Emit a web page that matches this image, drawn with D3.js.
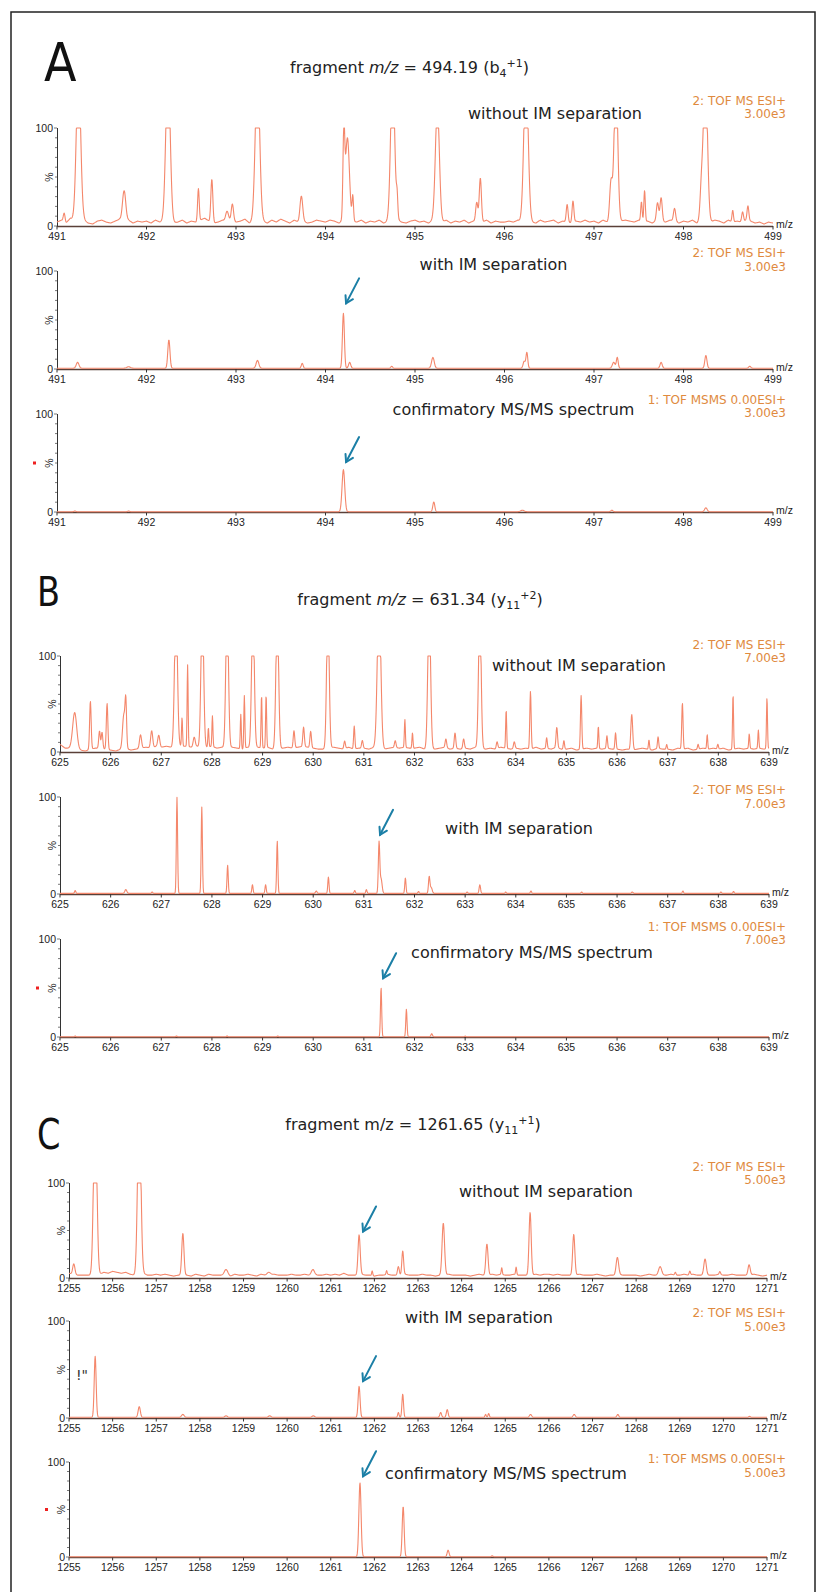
<!DOCTYPE html>
<html><head><meta charset="utf-8">
<script src="https://cdn.jsdelivr.net/npm/d3@7"></script>
<style>body{margin:0;background:#fff}svg{display:block}</style>
</head><body>
<svg id="c" width="816" height="1592"></svg>
<script>
// ---------------- DATA ----------------
const domainA = [491, 499];
const domainB = [625, 639];
const domainC = [1255, 1271];
const ticksA = [491, 492, 493, 494, 495, 496, 497, 498, 499];
const ticksB = [625, 626, 627, 628, 629, 630, 631, 632, 633, 634, 635, 636, 637, 638, 639];
const ticksC = [1255, 1256, 1257, 1258, 1259, 1260, 1261, 1262, 1263, 1264, 1265, 1266, 1267, 1268, 1269, 1270, 1271];
const yTickLabels = [0, 100];

const titleA = "494.19", titleB = "631.34", titleC = "1261.65";
const scanLabels = ["2: TOF MS ESI+", "2: TOF MS ESI+", "1: TOF MSMS 0.00ESI+"];
const scaleLabels = ["3.00e3", "7.00e3", "5.00e3"];
const panelNotes = ["without IM separation", "with IM separation", "confirmatory MS/MS spectrum"];

// peaks: [m/z, relative intensity %, width (sigma, m/z)]
const peaksA1 = [
  [491.08, 9, 0.01], [491.24, 156, 0.024], [491.75, 32, 0.018], [492.24, 156, 0.024],
  [492.58, 33, 0.009], [492.73, 44, 0.011], [492.90, 10, 0.015], [492.96, 16, 0.012],
  [493.24, 156, 0.024], [493.73, 26, 0.015], [494.205, 85, 0.01], [494.245, 85, 0.022],
  [494.305, 25, 0.008], [494.75, 156, 0.022], [494.80, 20, 0.008], [495.25, 118, 0.022],
  [495.69, 20, 0.012], [495.73, 45, 0.012], [496.24, 156, 0.024], [496.70, 18, 0.01],
  [496.765, 22, 0.01], [497.19, 40, 0.015], [497.245, 150, 0.02], [497.53, 20, 0.008],
  [497.565, 32, 0.008], [497.71, 18, 0.012], [497.75, 24, 0.012], [497.90, 13, 0.012],
  [498.20, 30, 0.015], [498.245, 156, 0.022], [498.55, 12, 0.008], [498.66, 10, 0.01],
  [498.72, 15, 0.01]
];
const peaksA2 = [
  [491.23, 6, 0.015], [491.8, 1.5, 0.02], [492.25, 29, 0.012], [493.24, 8, 0.015],
  [493.74, 5, 0.01], [494.20, 56, 0.011], [494.27, 6, 0.012], [494.74, 2, 0.01],
  [495.20, 11, 0.015], [496.22, 7, 0.012], [496.25, 16, 0.01], [497.22, 6, 0.015],
  [497.26, 11, 0.01], [497.75, 6, 0.012], [498.25, 13, 0.012], [498.74, 2, 0.012]
];
const peaksA3 = [
  [491.2, 0.8, 0.01], [491.8, 0.8, 0.01], [494.20, 43, 0.015], [495.21, 10, 0.011],
  [496.2, 1.5, 0.02], [497.2, 1.5, 0.012], [498.25, 4, 0.014]
];
const peaksB1 = [
  [625.29, 38, 0.04], [625.60, 50, 0.015], [625.78, 18, 0.015], [625.83, 17, 0.015],
  [625.93, 48, 0.015], [626.26, 35, 0.025], [626.30, 45, 0.015], [626.59, 14, 0.02],
  [626.81, 18, 0.02], [626.95, 12, 0.02], [627.29, 150, 0.028], [627.41, 30, 0.01],
  [627.52, 85, 0.01], [627.65, 10, 0.02], [627.81, 150, 0.026], [627.93, 20, 0.01],
  [628.01, 32, 0.01], [628.30, 150, 0.026], [628.57, 36, 0.01], [628.64, 55, 0.01],
  [628.81, 150, 0.026], [628.98, 55, 0.01], [629.07, 55, 0.01], [629.29, 150, 0.026],
  [629.62, 18, 0.015], [629.81, 20, 0.015], [629.95, 17, 0.015], [630.29, 150, 0.025],
  [630.62, 8, 0.015], [630.81, 24, 0.012], [630.97, 8, 0.015], [631.30, 160, 0.034],
  [631.62, 7, 0.015], [631.81, 29, 0.01], [631.96, 16, 0.01], [632.29, 150, 0.027],
  [632.62, 9, 0.015], [632.80, 16, 0.015], [632.97, 10, 0.015], [633.29, 150, 0.025],
  [633.63, 7, 0.015], [633.81, 40, 0.01], [633.97, 7, 0.015], [634.29, 60, 0.013],
  [634.61, 11, 0.012], [634.81, 21, 0.015], [634.95, 9, 0.012], [635.29, 56, 0.013],
  [635.63, 23, 0.01], [635.80, 13, 0.012], [635.97, 17, 0.012], [636.29, 37, 0.018],
  [636.63, 10, 0.01], [636.81, 12, 0.012], [636.98, 5, 0.01], [637.29, 48, 0.013],
  [637.60, 5, 0.012], [637.78, 15, 0.01], [637.99, 5, 0.012], [638.29, 57, 0.01],
  [638.61, 15, 0.01], [638.79, 19, 0.01], [638.96, 53, 0.01]
];
const peaksB2 = [
  [625.30, 3, 0.012], [626.30, 4, 0.02], [626.82, 1.5, 0.012], [627.31, 99, 0.012],
  [627.80, 89, 0.012], [628.31, 29, 0.012], [628.80, 9, 0.012], [629.06, 9, 0.012],
  [629.29, 54, 0.012], [630.06, 2.5, 0.015], [630.30, 17, 0.012], [630.82, 3, 0.012],
  [631.05, 4, 0.012], [631.30, 52, 0.014], [631.34, 15, 0.02], [631.82, 16, 0.012],
  [632.08, 2, 0.012], [632.29, 17, 0.014], [632.33, 6, 0.02], [633.04, 1.5, 0.012],
  [633.29, 9, 0.014], [633.80, 1.5, 0.012], [634.30, 2.5, 0.012], [635.30, 1.5, 0.012],
  [636.30, 1.5, 0.015], [637.30, 2.5, 0.012], [638.05, 1.5, 0.012], [638.30, 2, 0.012]
];
const peaksB3 = [
  [625.3, 0.8, 0.01], [627.3, 0.8, 0.01], [628.3, 0.8, 0.01], [629.3, 0.8, 0.01],
  [631.34, 50, 0.012], [631.84, 28, 0.012], [632.34, 3, 0.015], [633.0, 0.6, 0.01]
];
const peaksC1 = [
  [1255.11, 11, 0.025], [1255.60, 188, 0.037], [1256.61, 188, 0.037], [1257.61, 44, 0.025],
  [1258.60, 6, 0.04], [1259.58, 3, 0.04], [1260.59, 5, 0.035], [1261.65, 42, 0.025],
  [1261.95, 5, 0.012], [1262.28, 4, 0.012], [1262.55, 9, 0.02], [1262.65, 25, 0.02],
  [1263.58, 55, 0.028], [1264.58, 33, 0.025], [1264.92, 7, 0.012], [1265.25, 8, 0.012],
  [1265.57, 66, 0.025], [1266.57, 43, 0.025], [1267.57, 18, 0.028], [1268.55, 9, 0.035],
  [1268.90, 3, 0.015], [1269.23, 4, 0.015], [1269.58, 17, 0.028], [1269.92, 3, 0.015],
  [1270.59, 11, 0.025]
];
const peaksC2 = [
  [1255.60, 63, 0.022], [1256.61, 11, 0.025], [1257.61, 3, 0.03], [1258.6, 1.5, 0.03],
  [1259.6, 1.5, 0.03], [1260.6, 1.5, 0.03], [1261.65, 32, 0.022], [1262.55, 5, 0.015],
  [1262.65, 24, 0.018], [1263.52, 5, 0.02], [1263.67, 8, 0.02], [1264.55, 3, 0.015],
  [1264.62, 4, 0.015], [1265.58, 3, 0.025], [1266.58, 3, 0.025], [1267.58, 3, 0.02],
  [1270.6, 1, 0.02]
];
const peaksC3 = [
  [1261.67, 78, 0.025], [1262.66, 53, 0.022], [1263.69, 7, 0.022], [1264.7, 1, 0.02]
];

// baseline (chemical noise) levels read along the axis, % (A: every 0.05, B/C: every 0.1 m/z)
const baseA1 = [
  4,6,3,8,5,4,6,3,2,5,6,4,3,5,7,4,6,3,5,4,
  5,3,6,4,5,7,3,4,6,3,5,4,6,8,5,3,4,6,5,7,
  4,5,7,3,6,4,5,3,6,4,7,5,3,6,4,5,3,4,6,5,
  4,6,5,3,6,5,5,4,6,3,5,4,6,3,5,4,7,4,3,5,
  6,4,5,3,6,5,4,6,3,5,4,6,3,5,4,4,6,3,5,4,
  4,5,4,6,3,5,4,3,6,4,5,6,3,5,4,3,5,4,6,4,
  5,3,6,4,5,4,5,6,5,4,6,4,5,3,6,5,4,6,5,3,
  5,4,6,3,7,5,4,6,5,3,6,4,5,4,6,5,3,4,2,4,
  3
];
const baseB1 = [
  8,4,4,3,2,1,3,4,4,3, 2,1,3,4,2,3,4,5,4,6, 5,6,5,7,6,6,5,6,5,5,
  6,4,5,4,5,4,3,5,4,5, 4,5,3,3,4,5,4,5,6,5, 4,3,3,4,5,4,3,5,3,4,
  4,3,5,4,3,4,5,4,5,4, 4,5,3,4,3,4,5,3,4,3, 4,3,5,4,3,4,3,5,4,3,
  4,3,4,3,5,3,4,3,5,3, 3,4,2,3,4,3,4,3,4,3, 3,2,3,2,3,4,3,2,4,3,
  3,2,4,3,4,2,3,4,3,4, 3,4,2,3,4,3,4,3,4,3, 4
];
const baseC1 = [
  5,4,3,3,3,3,3,4,6,5, 7,6,5,6,4,3,3,5,3,3, 4,3,4,3,2,3,3,3,2,4,
  3,2,4,3,3,3,3,2,4,3, 3,4,3,2,4,3,3,4,3,3, 3,4,3,3,4,3,4,3,3,4,
  3,4,3,5,3,3,3,4,3,3, 2,3,3,4,3,3,3,4,3,3, 3,4,3,3,2,3,3,4,3,3,
  3,3,2,3,4,3,3,4,3,4, 3,3,4,3,3,3,3,4,3,4, 4,3,4,3,3,3,3,4,3,3,
  3,4,3,2,3,3,4,3,3,3, 3,2,3,4,3,3,3,3,4,3, 3,4,3,4,3,3,3,3,3,4,
  3,3,4,3,3,3,3,4,3,2, 3
];
// arrow targets: [m/z, % level of arrow tip]
const arrowA2 = [494.23, 67], arrowA3 = [494.23, 51];
const arrowB2 = [631.32, 61], arrowB3 = [631.38, 60];
const arrowC1 = [1261.74, 49], arrowC2 = [1261.74, 38], arrowC3 = [1261.74, 85];

// ---------------- LAYOUT ----------------
const groups = {
  A: {x0: 57, x1: 773, dom: domainA, ticks: ticksA},
  B: {x0: 60, x1: 769, dom: domainB, ticks: ticksB},
  C: {x0: 69, x1: 767, dom: domainC, ticks: ticksC}
};
const panels = [
  {g:"A", y100:128, y0:226, peaks:peaksA1, base:baseA1, step:0.05, bc:0, kind:0, lab:[105,118], note:[555,119], arrow:null},
  {g:"A", y100:271, y0:369, peaks:peaksA2, base:null, bc:0.8, kind:1, lab:[257,270.5], note:[493.5,270], arrow:arrowA2},
  {g:"A", y100:414, y0:512, peaks:peaksA3, base:null, bc:0.3, kind:2, lab:[403.5,417], note:[513.5,415], arrow:arrowA3, dot:true},
  {g:"B", y100:656, y0:752, peaks:peaksB1, base:baseB1, step:0.1, bc:0, kind:0, lab:[648.5,662], note:[579,671], arrow:null},
  {g:"B", y100:797, y0:894, peaks:peaksB2, base:null, bc:0.6, kind:1, lab:[793.5,807.5], note:[519,834], arrow:arrowB2},
  {g:"B", y100:939, y0:1037, peaks:peaksB3, base:null, bc:0.3, kind:2, lab:[930.5,943.5], note:[532,958], arrow:arrowB3, dot:true},
  {g:"C", y100:1183, y0:1278, peaks:peaksC1, base:baseC1, step:0.1, bc:0, kind:0, lab:[1170.5,1183.5], note:[546,1197], arrow:arrowC1},
  {g:"C", y100:1321, y0:1418, peaks:peaksC2, base:null, bc:0.7, kind:1, lab:[1316.5,1330.5], note:[479,1323], arrow:arrowC2, glitch:true},
  {g:"C", y100:1462, y0:1557, peaks:peaksC3, base:null, bc:0.2, kind:2, lab:[1462.5,1476.5], note:[506,1479], arrow:arrowC3, dot:true}
];
const scaleIdx = {A:0, B:1, C:2};

const svg = d3.select("#c");
const LINE = "#f4876b", ORANGE = "#e08a3e", ARROW = "#1b7fa6";
const SANS = "'DejaVu Sans', Verdana, sans-serif";
const AX = "'Liberation Sans', Arial, sans-serif";

// frame
svg.append("rect").attr("x", 11).attr("y", 12).attr("width", 804).attr("height", 1620)
  .attr("fill", "none").attr("stroke", "#222").attr("stroke-width", 1.5);

// big letters
svg.append("text").attr("transform", "translate(44,81) scale(0.95,1.05)").attr("font-family", SANS)
  .attr("font-size", 50).attr("fill", "#111").text("A");
svg.append("text").attr("transform", "translate(37,606) scale(0.82,1)").attr("font-family", SANS)
  .attr("font-size", 41).attr("fill", "#111").text("B");
svg.append("text").attr("transform", "translate(37,1149) scale(0.8,1)").attr("font-family", SANS)
  .attr("font-size", 42).attr("fill", "#111").text("C");

// titles
function title(cx, y, value, ion, sub, sup, italic) {
  const t = svg.append("text").attr("x", cx).attr("y", y).attr("text-anchor", "middle")
    .attr("font-family", SANS).attr("font-size", 16).attr("fill", "#222");
  t.append("tspan").text("fragment ");
  t.append("tspan").attr("font-style", italic ? "italic" : "normal").text("m/z");
  t.append("tspan").text(" = " + value + " (" + ion);
  t.append("tspan").attr("font-size", 11).attr("dy", 4).text(sub);
  t.append("tspan").attr("font-size", 11).attr("dy", -10).text(sup);
  t.append("tspan").attr("dy", 6).text(")");
}
title(409.5, 73, titleA, "b", "4", "+1", true);
title(420, 604.5, titleB, "y", "11", "+2", true);
title(413, 1129.5, titleC, "y", "11", "+1", false);

function baseline(p, m, d0) {
  if (!p.base) return p.bc;
  const f = (m - d0) / p.step;
  const i = Math.max(0, Math.min(p.base.length - 2, Math.floor(f)));
  const t = Math.min(1, Math.max(0, f - i));
  return p.base[i] * (1 - t) + p.base[i + 1] * t;
}

panels.forEach(p => {
  const G = groups[p.g];
  const x = d3.scaleLinear().domain(G.dom).range([G.x0, G.x1]);
  const y = d3.scaleLinear().domain([0, 100]).range([p.y0, p.y100]);
  const g = svg.append("g");

  // spectrum profile from peak list
  const N = 2000, pts = [];
  for (let i = 0; i <= N; i++) {
    const m = G.dom[0] + (G.dom[1] - G.dom[0]) * i / N;
    let v = baseline(p, m, G.dom[0]);
    p.peaks.forEach(([c, h, s]) => {
      const d = m - c;
      if (Math.abs(d) < 6 * s) v += h * Math.exp(-d * d / (2 * s * s));
    });
    pts.push([m, Math.max(0, Math.min(100, v))]);
  }

  // x axis
  g.append("line").attr("x1", G.x0).attr("x2", G.x1).attr("y1", p.y0 + 0.5).attr("y2", p.y0 + 0.5)
    .attr("stroke", "#5a4038").attr("stroke-width", 1.5);
  G.ticks.forEach(tk => {
    g.append("line").attr("x1", x(tk)).attr("x2", x(tk)).attr("y1", p.y0).attr("y2", p.y0 + 3.5)
      .attr("stroke", "#333").attr("stroke-width", 1);
    g.append("text").attr("x", x(tk)).attr("y", p.y0 + 13.5).attr("text-anchor", "middle")
      .attr("font-family", AX).attr("font-size", 10.5).attr("fill", "#222").text(tk);
  });
  g.append("text").attr("x", G.x1 + 3).attr("y", p.y0 + 1.5).attr("font-family", AX)
    .attr("font-size", 10.5).attr("fill", "#222").text("m/z");

  // y axis
  g.append("line").attr("x1", G.x0 + 0.5).attr("x2", G.x0 + 0.5).attr("y1", p.y100).attr("y2", p.y0)
    .attr("stroke", "#333").attr("stroke-width", 1);
  d3.range(0, 101, 10).forEach(v => {
    const L = (v === 0 || v === 100) ? 3 : 2;
    g.append("line").attr("x1", G.x0 - L).attr("x2", G.x0).attr("y1", y(v)).attr("y2", y(v))
      .attr("stroke", "#555").attr("stroke-width", 0.8);
  });
  yTickLabels.forEach(v => {
    g.append("text").attr("x", G.x0 - 4).attr("y", y(v) + 3.8).attr("text-anchor", "end")
      .attr("font-family", AX).attr("font-size", 10.5).attr("fill", "#222").text(v);
  });
  const mid = (p.y0 + p.y100) / 2;
  g.append("text").attr("transform", `translate(${G.x0 - 4},${mid}) rotate(-90)`)
    .attr("text-anchor", "middle").attr("font-family", AX).attr("font-size", 10.5)
    .attr("fill", "#222").text("%");
  if (p.dot) {
    g.append("rect").attr("x", G.x0 - 24).attr("y", mid - 1.5).attr("width", 3).attr("height", 3)
      .attr("fill", "#ee2020");
  }

  // spectrum line
  const line = d3.line().x(d => x(d[0])).y(d => y(d[1]));
  g.append("path").datum(pts).attr("d", line).attr("fill", "none")
    .attr("stroke", LINE).attr("stroke-width", 1.1).attr("stroke-linejoin", "round");

  // scan labels
  const si = scaleIdx[p.g];
  g.append("text").attr("x", 786).attr("y", p.lab[0]).attr("text-anchor", "end")
    .attr("font-family", SANS).attr("font-size", 12).attr("fill", ORANGE).text(scanLabels[p.kind]);
  g.append("text").attr("x", 786).attr("y", p.lab[1]).attr("text-anchor", "end")
    .attr("font-family", SANS).attr("font-size", 12).attr("fill", ORANGE).text(scaleLabels[si]);

  // note
  g.append("text").attr("x", p.note[0]).attr("y", p.note[1]).attr("text-anchor", "middle")
    .attr("font-family", SANS).attr("font-size", 16).attr("fill", "#222").text(panelNotes[p.kind]);

  if (p.glitch) {
    g.append("text").attr("x", G.x0 + 7).attr("y", mid + 10).attr("font-family", SANS)
      .attr("font-size", 14).attr("fill", "#333").text('!"');
  }

  // arrow
  if (p.arrow) {
    const tx = x(p.arrow[0]), ty = y(p.arrow[1]);
    const sx = tx + 13, sy = ty - 25;
    const len = Math.hypot(tx - sx, ty - sy);
    const ux = (sx - tx) / len, uy = (sy - ty) / len;
    const rot = (a) => [ux * Math.cos(a) - uy * Math.sin(a), ux * Math.sin(a) + uy * Math.cos(a)];
    const w1 = rot(0.55), w2 = rot(-0.55), H = 8;
    g.append("line").attr("x1", sx).attr("y1", sy).attr("x2", tx).attr("y2", ty)
      .attr("stroke", ARROW).attr("stroke-width", 2).attr("stroke-linecap", "round");
    g.append("path").attr("d", `M${tx + w1[0] * H},${ty + w1[1] * H}L${tx},${ty}L${tx + w2[0] * H},${ty + w2[1] * H}`)
      .attr("fill", "none").attr("stroke", ARROW).attr("stroke-width", 2)
      .attr("stroke-linecap", "round").attr("stroke-linejoin", "miter");
  }
});
</script>
</body></html>
